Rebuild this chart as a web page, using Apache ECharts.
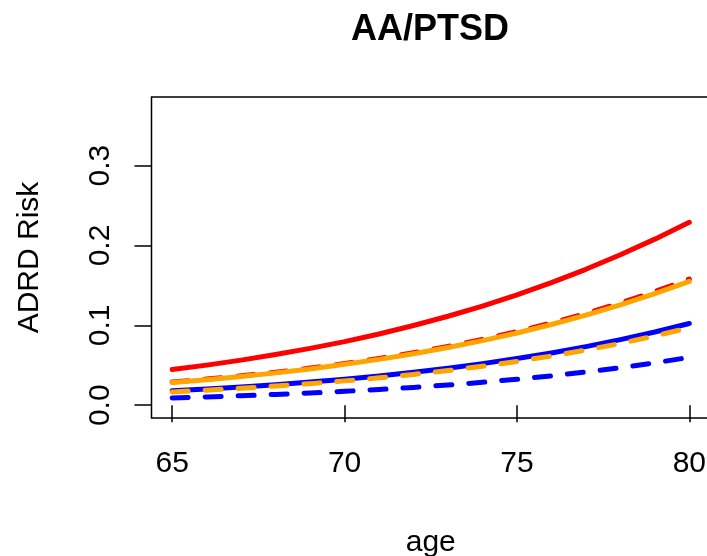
<!DOCTYPE html>
<html>
<head>
<meta charset="utf-8">
<title>AA/PTSD</title>
<script src="https://cdn.jsdelivr.net/npm/echarts@6/dist/echarts.min.js"></script>
<style>
  html, body { margin: 0; padding: 0; background: #fff; }
  #chart { width: 707px; height: 556px; }
</style>
</head>
<body>
<div id="chart"></div>
<script>
// Ages on the x axis, one point per year
const ages = [65, 66, 67, 68, 69, 70, 71, 72, 73, 74, 75, 76, 77, 78, 79, 80];

// Predicted ADRD risk by age for each group
const redSolid     = [0.0447, 0.0502, 0.0565, 0.0635, 0.0712, 0.0797, 0.0892, 0.0998, 0.1114, 0.1242, 0.1382, 0.1536, 0.1702, 0.1884, 0.2080, 0.2290];
const redDashed    = [0.0290, 0.0327, 0.0368, 0.0413, 0.0465, 0.0522, 0.0586, 0.0658, 0.0737, 0.0825, 0.0923, 0.1031, 0.1150, 0.1280, 0.1423, 0.1580];
const blueSolid    = [0.0180, 0.0203, 0.0229, 0.0257, 0.0290, 0.0326, 0.0367, 0.0413, 0.0464, 0.0521, 0.0584, 0.0655, 0.0734, 0.0821, 0.0917, 0.1024];
const blueDashed   = [0.0092, 0.0104, 0.0119, 0.0135, 0.0153, 0.0174, 0.0197, 0.0223, 0.0253, 0.0287, 0.0325, 0.0368, 0.0416, 0.0470, 0.0531, 0.0600];
const orangeSolid  = [0.0284, 0.0320, 0.0360, 0.0405, 0.0455, 0.0512, 0.0574, 0.0644, 0.0722, 0.0809, 0.0905, 0.1011, 0.1128, 0.1256, 0.1397, 0.1551];
const orangeDashed = [0.0167, 0.0189, 0.0213, 0.0240, 0.0270, 0.0305, 0.0343, 0.0386, 0.0434, 0.0488, 0.0549, 0.0616, 0.0691, 0.0774, 0.0867, 0.0970];

// Tick positions
const xTicks = [65, 70, 75, 80];
const yTicks = [0, 0.1, 0.2, 0.3];

const FONT = '"Liberation Sans", Arial, Helvetica, sans-serif';

function pairs(vals) {
  return ages.map((a, i) => [a, vals[i]]);
}

function line(name, vals, color, dashed) {
  return {
    name: name,
    type: 'line',
    data: pairs(vals),
    showSymbol: false,
    symbol: 'none',
    smooth: false,
    clip: true,
    lineStyle: {
      color: color,
      width: 5,
      type: dashed ? [16, 17] : 'solid',
      cap: 'round',
      join: 'round'
    },
    emphasis: { disabled: true }
  };
}

const chart = echarts.init(document.getElementById('chart'), null, { renderer: 'canvas' });

chart.setOption({
  animation: false,
  backgroundColor: '#ffffff',
  title: {
    text: 'AA/PTSD',
    left: 425,
    textAlign: 'center',
    top: 7,
    textStyle: { fontFamily: FONT, fontSize: 36, fontWeight: 'bold', color: '#000' }
  },
  grid: {
    left: 151.5,
    right: -3,
    top: 97,
    bottom: 138,
    outerBoundsMode: 'none',
    containLabel: false,
    show: true,
    borderColor: '#000',
    borderWidth: 1.5,
    backgroundColor: 'transparent'
  },
  xAxis: {
    type: 'value',
    min: 64.4,
    max: 80.6,
    name: 'age',
    nameLocation: 'middle',
    nameGap: 110,
    nameTextStyle: { fontFamily: FONT, fontSize: 30, color: '#000' },
    axisLine: { show: false },
    splitLine: { show: false },
    axisTick: {
      show: true,
      inside: false,
      length: 17,
      customValues: xTicks,
      lineStyle: { color: '#000', width: 1.5 }
    },
    axisLabel: {
      customValues: xTicks,
      margin: 31,
      fontFamily: FONT,
      fontSize: 30,
      color: '#000',
      formatter: v => String(v)
    }
  },
  yAxis: {
    type: 'value',
    min: -0.016,
    max: 0.386,
    name: 'ADRD Risk',
    nameLocation: 'middle',
    nameGap: 107,
    nameRotate: 90,
    nameTextStyle: { fontFamily: FONT, fontSize: 30, color: '#000' },
    axisLine: { show: false },
    splitLine: { show: false },
    axisTick: {
      show: true,
      inside: false,
      length: 17,
      customValues: yTicks,
      lineStyle: { color: '#000', width: 1.5 }
    },
    axisLabel: {
      customValues: yTicks,
      rotate: 90,
      margin: 36,
      fontFamily: FONT,
      fontSize: 30,
      color: '#000',
      formatter: v => Number(v).toFixed(1)
    }
  },
  series: [
    line('red', redSolid, '#FF0000', false),
    line('red dashed', redDashed, '#FF0000', true),
    line('blue', blueSolid, '#0000FF', false),
    line('blue dashed', blueDashed, '#0000FF', true),
    line('orange', orangeSolid, '#FFA500', false),
    line('orange dashed', orangeDashed, '#FFA500', true)
  ]
});
</script>
</body>
</html>
